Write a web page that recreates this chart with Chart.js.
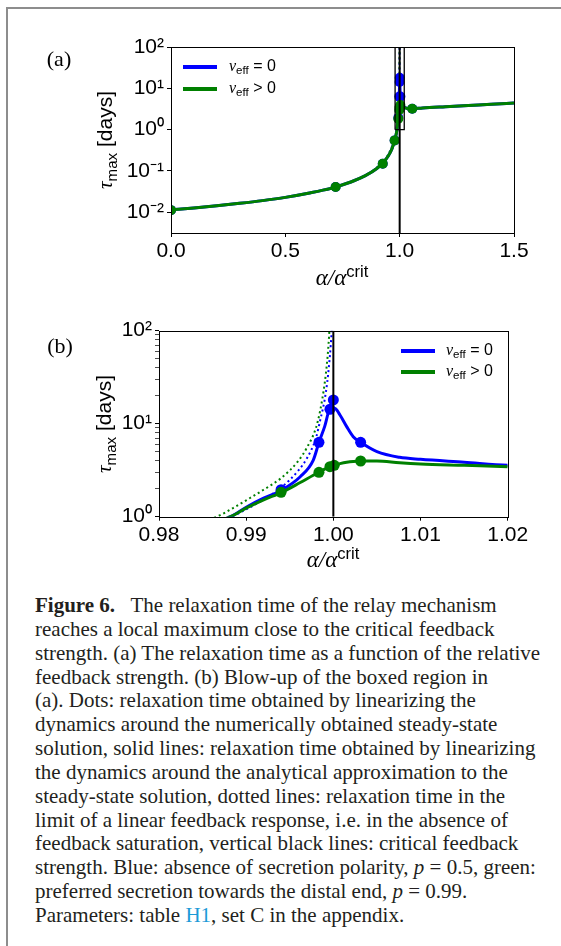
<!DOCTYPE html>
<html><head><meta charset="utf-8">
<script src="https://cdn.jsdelivr.net/npm/chart.js@4.4.1/dist/chart.umd.min.js"></script>
<style>
html,body{margin:0;padding:0;background:#fff;}
body{width:561px;height:946px;position:relative;overflow:hidden;font-family:"Liberation Sans",Arial,sans-serif;color:#000;}
#frame{position:absolute;left:6px;top:7px;width:620px;height:1000px;border-left:2px solid #8d8d8d;border-top:2px solid #8d8d8d;}
.cv{position:absolute;left:0;}
.panel{position:absolute;font-family:"Liberation Serif",serif;font-size:22px;line-height:1;transform:translate(-50%,-50%);}
.sw{position:absolute;height:4px;width:34px;}
.leg{position:absolute;font-size:16px;line-height:18px;white-space:nowrap;}
.mi{font-family:"Liberation Serif",serif;font-style:italic;}
.sub{font-size:0.72em;position:relative;top:0.3em;}
.sup{font-size:0.72em;position:relative;top:-0.5em;}
.xt{position:absolute;font-size:23px;line-height:1;white-space:nowrap;transform:translate(-50%,-50%);}
.yt{position:absolute;font-size:21px;line-height:1;white-space:nowrap;transform:translate(-50%,-50%) rotate(-90deg);}
#cap{position:absolute;left:35px;top:594px;font-family:"Liberation Serif",serif;font-size:21px;line-height:23.85px;color:#231f20;white-space:nowrap;}
#cap .lk{color:#1b9ad7;}
</style>
</head><body>
<div id="frame"></div>
<canvas id="ca" class="cv" style="top:0" width="561" height="300"></canvas>
<canvas id="cb" class="cv" style="top:300px" width="561" height="290"></canvas>

<div class="panel" style="left:59px;top:59px">(a)</div>
<div class="panel" style="left:60px;top:346px">(b)</div>

<div class="sw" style="left:183px;top:65px;background:#0000ff"></div>
<div class="sw" style="left:183px;top:87px;background:#008000"></div>
<div class="leg" style="left:229px;top:57px"><span class="mi">v</span><span class="sub">eff</span> = 0</div>
<div class="leg" style="left:229px;top:79px"><span class="mi">v</span><span class="sub">eff</span> &gt; 0</div>

<div class="sw" style="left:401px;top:349px;background:#0000ff"></div>
<div class="sw" style="left:401px;top:370px;background:#008000"></div>
<div class="leg" style="left:446px;top:341px"><span class="mi">v</span><span class="sub">eff</span> = 0</div>
<div class="leg" style="left:446px;top:362px"><span class="mi">v</span><span class="sub">eff</span> &gt; 0</div>

<div class="yt" style="left:105px;top:140px"><span class="mi">τ</span><span class="sub">max</span> [days]</div>
<div class="yt" style="left:104px;top:424px"><span class="mi">τ</span><span class="sub">max</span> [days]</div>
<div class="xt" style="left:342px;top:277px"><span class="mi">α</span><span class="mi">/</span><span class="mi">α</span><span class="sup">crit</span></div>
<div class="xt" style="left:333px;top:559px"><span class="mi">α</span><span class="mi">/</span><span class="mi">α</span><span class="sup">crit</span></div>

<div id="cap"><b>Figure 6.</b>&nbsp;&nbsp; The relaxation time of the relay mechanism<br>reaches a local maximum close to the critical feedback<br>strength. (a) The relaxation time as a function of the relative<br>feedback strength. (b) Blow-up of the boxed region in<br>(a). Dots: relaxation time obtained by linearizing the<br>dynamics around the numerically obtained steady-state<br>solution, solid lines: relaxation time obtained by linearizing<br>the dynamics around the analytical approximation to the<br>steady-state solution, dotted lines: relaxation time in the<br>limit of a linear feedback response, i.e. in the absence of<br>feedback saturation, vertical black lines: critical feedback<br>strength. Blue: absence of secretion polarity, <i>p</i> = 0.5, green:<br>preferred secretion towards the distal end, <i>p</i> = 0.99.<br>Parameters: table <span class="lk">H1</span>, set C in the appendix.</div>

<script>
// ---------------- data ----------------
const alphaSolid = [0,0.1,0.2,0.3,0.4,0.5,0.6,0.7,0.72,0.8,0.85,0.9,0.926,0.95,0.965,0.978,0.9835,0.9882,0.9901,0.992,0.9941,0.9962,0.9977,0.99835,0.9990,0.99961,1.00018,1.00076,1.00153,1.00228,1.00313,1.005,1.0076,1.01,1.015,1.02,1.03,1.055,1.1,1.2,1.3,1.4,1.5];
const tauSolidBlue = [0.0115,0.0128,0.0144,0.0165,0.0192,0.023,0.029,0.038,0.041,0.058,0.077,0.115,0.155,0.23,0.33,0.55,0.72,1.0,1.28,1.58,1.94,2.69,4.07,6.3,9.3,14.3,14.6,12.4,9.3,7.25,6.3,5.0,4.35,4.14,3.85,3.57,3.3,3.2,3.35,3.6,3.85,4.1,4.4];
const tauSolidGreen = [0.0115,0.0128,0.0144,0.0165,0.0192,0.023,0.029,0.038,0.041,0.058,0.077,0.115,0.155,0.23,0.33,0.55,0.72,1.0,1.25,1.52,1.83,2.33,2.79,3.0,3.25,3.45,3.6,3.72,3.85,3.93,3.97,3.97,3.8,3.69,3.57,3.45,3.3,3.2,3.35,3.6,3.85,4.1,4.4];

const alphaDotsBlue = [0,0.72,0.926,0.978,0.994,0.99835,0.99961,1.0000,1.00313,1.055];
const tauDotsBlue = [0.0113,0.041,0.150,0.55,1.95,6.3,14.3,18.0,6.3,3.2];
const alphaDotsGreen = [0,0.72,0.926,0.978,0.994,0.99835,0.99961,1.0001,1.00313,1.055];
const tauDotsGreen = [0.0113,0.041,0.150,0.55,1.83,3.0,3.45,3.57,3.97,3.2];

const alphaDottedBlue = [0.9,0.95,0.978,0.9883,0.990,0.992,0.994,0.996,0.997,0.998,0.9985,0.999,0.9993,0.9995,0.9997,0.9998,0.99985];
const tauDottedBlue = [0.115,0.23,0.53,1.0,1.2,1.53,2.05,3.15,4.3,7.0,11,18,28,42,70,100,150];
const alphaDottedGreen = [0.9,0.95,0.978,0.9866,0.9885,0.990,0.992,0.994,0.996,0.997,0.998,0.9985,0.999,0.9993,0.9995,0.9996,0.99967];
const tauDottedGreen = [0.12,0.25,0.62,1.0,1.24,1.5,1.95,2.6,4.0,5.6,9.0,14,27,48,85,130,200];

const critAlpha = 1.0;
const boxAlpha = [0.98, 1.02];
const boxTau = [1, 100];

const xRangeA = [0, 1.5];
const yRangeA = [0.00316, 100];
const xTicksA = [0, 0.5, 1.0, 1.5];
const xTickLabelsA = ['0.0', '0.5', '1.0', '1.5'];
const yTicksA = [0.01, 0.1, 1, 10, 100];
const yTickLabelsA = ['10\u207B\u00B2', '10\u207B\u00B9', '10\u2070', '10\u00B9', '10\u00B2'];

const xRangeB = [0.98, 1.02];
const yRangeB = [1, 100];
const xTicksB = [0.98, 0.99, 1.00, 1.01, 1.02];
const xTickLabelsB = ['0.98', '0.99', '1.00', '1.01', '1.02'];
const yTicksB = [1, 2, 3, 4, 5, 6, 7, 8, 9, 10, 20, 30, 40, 50, 60, 70, 80, 90, 100];
const yTickLabelsB = ['10\u2070', '', '', '', '', '', '', '', '', '10\u00B9', '', '', '', '', '', '', '', '', '10\u00B2'];

const BLUE = '#0000ff', GREEN = '#008000';

// ---------------- chart builder ----------------
const pts = (xs, ys) => xs.map((x, i) => ({x: x, y: ys[i]}));

const framePlugin = {
  id: 'frame',
  afterDatasetsDraw(chart) {
    const a = chart.chartArea, ctx = chart.ctx;
    ctx.save();
    ctx.strokeStyle = '#000';
    ctx.lineWidth = 1;
    ctx.strokeRect(Math.round(a.left) + 0.5, Math.round(a.top) + 0.5,
                   Math.round(a.right) - Math.round(a.left), Math.round(a.bottom) - Math.round(a.top));
    ctx.restore();
  }
};

function build(id, o) {
  const ds = [];
  if (o.box) {
    ds.push({data: [{x: boxAlpha[0], y: boxTau[0]}, {x: boxAlpha[1], y: boxTau[0]}, {x: boxAlpha[1], y: boxTau[1]},
                    {x: boxAlpha[0], y: boxTau[1]}, {x: boxAlpha[0], y: boxTau[0]}],
             showLine: true, borderColor: '#000', borderWidth: 1.3, pointRadius: 0, order: 0});
  }
  ds.push({data: [{x: critAlpha, y: o.yRange[0]}, {x: critAlpha, y: o.yRange[1]}],
           showLine: true, borderColor: '#000', borderWidth: 2, pointRadius: 0, order: 1});
  ds.push({data: pts(alphaDotsGreen, tauDotsGreen), showLine: false, pointRadius: o.r,
           pointBackgroundColor: GREEN, pointBorderColor: GREEN, pointBorderWidth: 0, order: 2});
  ds.push({data: pts(alphaSolid, tauSolidGreen), showLine: true, borderColor: GREEN, borderWidth: o.lw,
           pointRadius: 0, cubicInterpolationMode: 'monotone', order: 3});
  ds.push({data: pts(alphaDotsBlue, tauDotsBlue), showLine: false, pointRadius: o.r,
           pointBackgroundColor: BLUE, pointBorderColor: BLUE, pointBorderWidth: 0, order: 4});
  ds.push({data: pts(alphaSolid, tauSolidBlue), showLine: true, borderColor: BLUE, borderWidth: o.lw,
           pointRadius: 0, cubicInterpolationMode: 'monotone', order: 5});
  ds.push({data: pts(alphaDottedGreen, tauDottedGreen), showLine: true, borderColor: GREEN, borderWidth: 2,
           borderDash: [2, 3], pointRadius: 0, cubicInterpolationMode: 'monotone', order: 6});
  ds.push({data: pts(alphaDottedBlue, tauDottedBlue), showLine: true, borderColor: BLUE, borderWidth: 2,
           borderDash: [2, 3], pointRadius: 0, cubicInterpolationMode: 'monotone', order: 7});

  const font = {family: '"Liberation Sans", Arial, sans-serif', size: 21};
  return new Chart(document.getElementById(id), {
    type: 'scatter',
    data: {datasets: ds},
    plugins: [framePlugin],
    options: {
      responsive: false,
      animation: false,
      events: [],
      layout: {padding: o.pad},
      plugins: {legend: {display: false}, tooltip: {enabled: false}},
      scales: {
        x: {
          type: 'linear', min: o.xRange[0], max: o.xRange[1],
          afterBuildTicks: s => { s.ticks = o.xTicks.map(v => ({value: v})); },
          afterFit: s => { s.height = 40; },
          ticks: {callback: (v, i) => o.xLabels[i], font: font, color: '#000', padding: 2,
                  maxRotation: 0, autoSkip: false},
          grid: {drawOnChartArea: false, drawTicks: true, tickLength: 4, color: '#000', tickWidth: 1},
          border: {display: false}
        },
        y: {
          type: 'logarithmic', min: o.yRange[0], max: o.yRange[1],
          afterBuildTicks: s => { s.ticks = o.yTicks.map(v => ({value: v})); },
          afterFit: s => { s.width = 60; },
          ticks: {callback: (v, i) => o.yLabels[i], font: font, color: '#000', padding: 3, autoSkip: false},
          grid: {drawOnChartArea: false, drawTicks: true, tickLength: 4, color: '#000',
                 tickWidth: c => (o.yLabels[c.index] === '' ? 0.7 : 1)},
          border: {display: false}
        }
      }
    }
  });
}

build('ca', {box: true, yRange: yRangeA, xRange: xRangeA, xTicks: xTicksA, xLabels: xTickLabelsA,
             yTicks: yTicksA, yLabels: yTickLabelsA, r: 5, lw: 3,
             pad: {left: 111, right: 47, top: 47, bottom: 27}});
build('cb', {box: false, yRange: yRangeB, xRange: xRangeB, xTicks: xTicksB, xLabels: xTickLabelsB,
             yTicks: yTicksB, yLabels: yTickLabelsB, r: 5.5, lw: 3,
             pad: {left: 99, right: 53.3, top: 30.7, bottom: 33.3}});
</script>
</body></html>
